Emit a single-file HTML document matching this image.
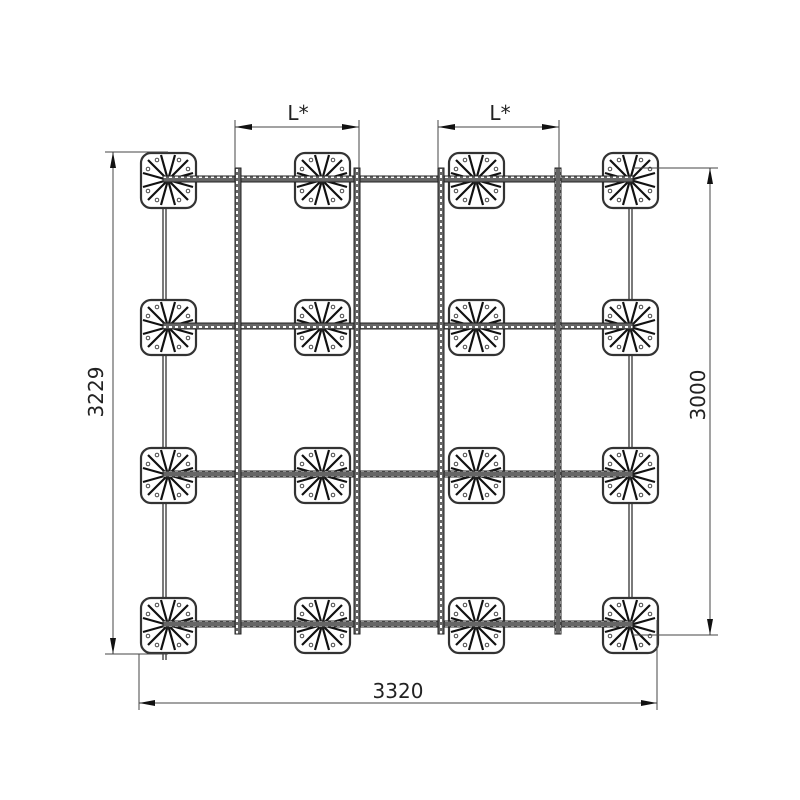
<!DOCTYPE html>
<html><head><style>html,body{margin:0;padding:0;background:#fff}svg{display:block}</style></head>
<body>
<svg width="800" height="800" viewBox="0 0 800 800" xmlns="http://www.w3.org/2000/svg">
<defs>
<g id="ped">
<rect x="-27" y="-27" width="55" height="55" rx="10" fill="#fff" stroke="#333" stroke-width="2.2"/>
<g stroke="#111" stroke-width="2.2">
<line x1="0" y1="0" x2="-20" y2="-20"/><line x1="0" y1="0" x2="20" y2="-20"/>
<line x1="0" y1="0" x2="-20" y2="20"/><line x1="0" y1="0" x2="20" y2="20"/>
<line x1="0" y1="0" x2="-7" y2="-25"/><line x1="0" y1="0" x2="7" y2="-25"/>
<line x1="0" y1="0" x2="-7" y2="25"/><line x1="0" y1="0" x2="7" y2="25"/>
<line x1="0" y1="0" x2="-25" y2="-7"/><line x1="0" y1="0" x2="25" y2="-7"/>
<line x1="0" y1="0" x2="-25" y2="7"/><line x1="0" y1="0" x2="25" y2="7"/>
</g>
<circle r="4" fill="#222"/>
<g fill="#fff" stroke="#333" stroke-width="0.9">
<circle cx="-11" cy="-20" r="1.8"/><circle cx="11" cy="-20" r="1.8"/>
<circle cx="-11" cy="20" r="1.8"/><circle cx="11" cy="20" r="1.8"/>
<circle cx="-20" cy="-11" r="1.8"/><circle cx="20" cy="-11" r="1.8"/>
<circle cx="-20" cy="11" r="1.8"/><circle cx="20" cy="11" r="1.8"/>
</g>
</g>
<pattern id="hp" width="6" height="6" patternUnits="userSpaceOnUse"><rect width="6" height="6" fill="#666"/><rect x="1" y="2" width="3" height="2" fill="#fff"/></pattern>
<pattern id="vp" width="6" height="6" patternUnits="userSpaceOnUse"><rect width="6" height="6" fill="#666"/><rect x="2" y="1" width="2" height="3" fill="#fff"/></pattern>
</defs>

<g stroke="#333" stroke-width="1.3">
<line x1="163" y1="180" x2="163" y2="660"/><line x1="166" y1="180" x2="166" y2="660"/>
<line x1="629" y1="165" x2="629" y2="630"/><line x1="632" y1="165" x2="632" y2="630"/>
</g>

<g>
<use href="#ped" x="168" y="180"/><use href="#ped" x="322" y="180"/><use href="#ped" x="476" y="180"/><use href="#ped" x="630" y="180"/>
<use href="#ped" x="168" y="327"/><use href="#ped" x="322" y="327"/><use href="#ped" x="476" y="327"/><use href="#ped" x="630" y="327"/>
<use href="#ped" x="168" y="475"/><use href="#ped" x="322" y="475"/><use href="#ped" x="476" y="475"/><use href="#ped" x="630" y="475"/>
<use href="#ped" x="168" y="625"/><use href="#ped" x="322" y="625"/><use href="#ped" x="476" y="625"/><use href="#ped" x="630" y="625"/>
</g>

<g stroke="#222" stroke-width="1" fill="url(#hp)">
<rect x="163" y="176" width="470" height="6"/>
<rect x="163" y="323" width="470" height="6"/>
<rect x="163" y="471" width="470" height="6"/>
<rect x="163" y="621" width="470" height="6"/>
</g>
<g stroke="#222" stroke-width="1" fill="url(#vp)">
<rect x="235" y="168" width="6" height="466"/>
<rect x="354" y="168" width="6" height="466"/>
<rect x="438" y="168" width="6" height="466"/>
<rect x="555" y="168" width="6" height="466"/>
</g>

<g stroke="#444" stroke-width="1" fill="none">
<line x1="235" y1="120" x2="235" y2="168"/><line x1="359" y1="120" x2="359" y2="168"/>
<line x1="438" y1="120" x2="438" y2="168"/><line x1="559" y1="120" x2="559" y2="168"/>
<line x1="235" y1="127" x2="359" y2="127"/><line x1="438" y1="127" x2="559" y2="127"/>
<line x1="105" y1="152" x2="168" y2="152"/><line x1="105" y1="654" x2="168" y2="654"/>
<line x1="113" y1="152" x2="113" y2="654"/>
<line x1="632" y1="168" x2="718" y2="168"/><line x1="632" y1="635" x2="718" y2="635"/>
<line x1="710" y1="168" x2="710" y2="635"/>
<line x1="139" y1="654" x2="139" y2="710"/><line x1="657" y1="620" x2="657" y2="710"/>
<line x1="139" y1="703" x2="657" y2="703"/>
</g>
<g fill="#111">
<polygon points="235,127 252,124 252,130"/><polygon points="359,127 342,124 342,130"/>
<polygon points="438,127 455,124 455,130"/><polygon points="559,127 542,124 542,130"/>
<polygon points="113,152 110,168 116,168"/><polygon points="113,654 110,638 116,638"/>
<polygon points="710,168 707,184 713,184"/><polygon points="710,635 707,619 713,619"/>
<polygon points="139,703 155,700 155,706"/><polygon points="657,703 641,700 641,706"/>
</g>
<g font-family="'DejaVu Sans',sans-serif" font-size="20" fill="#222" text-anchor="middle">
<text x="298" y="120">L*</text>
<text x="500" y="120">L*</text>
<text x="398" y="698">3320</text>
<text transform="translate(103,392) rotate(-90)">3229</text>
<text transform="translate(705,395) rotate(-90)">3000</text>
</g>
</svg>
</body></html>
